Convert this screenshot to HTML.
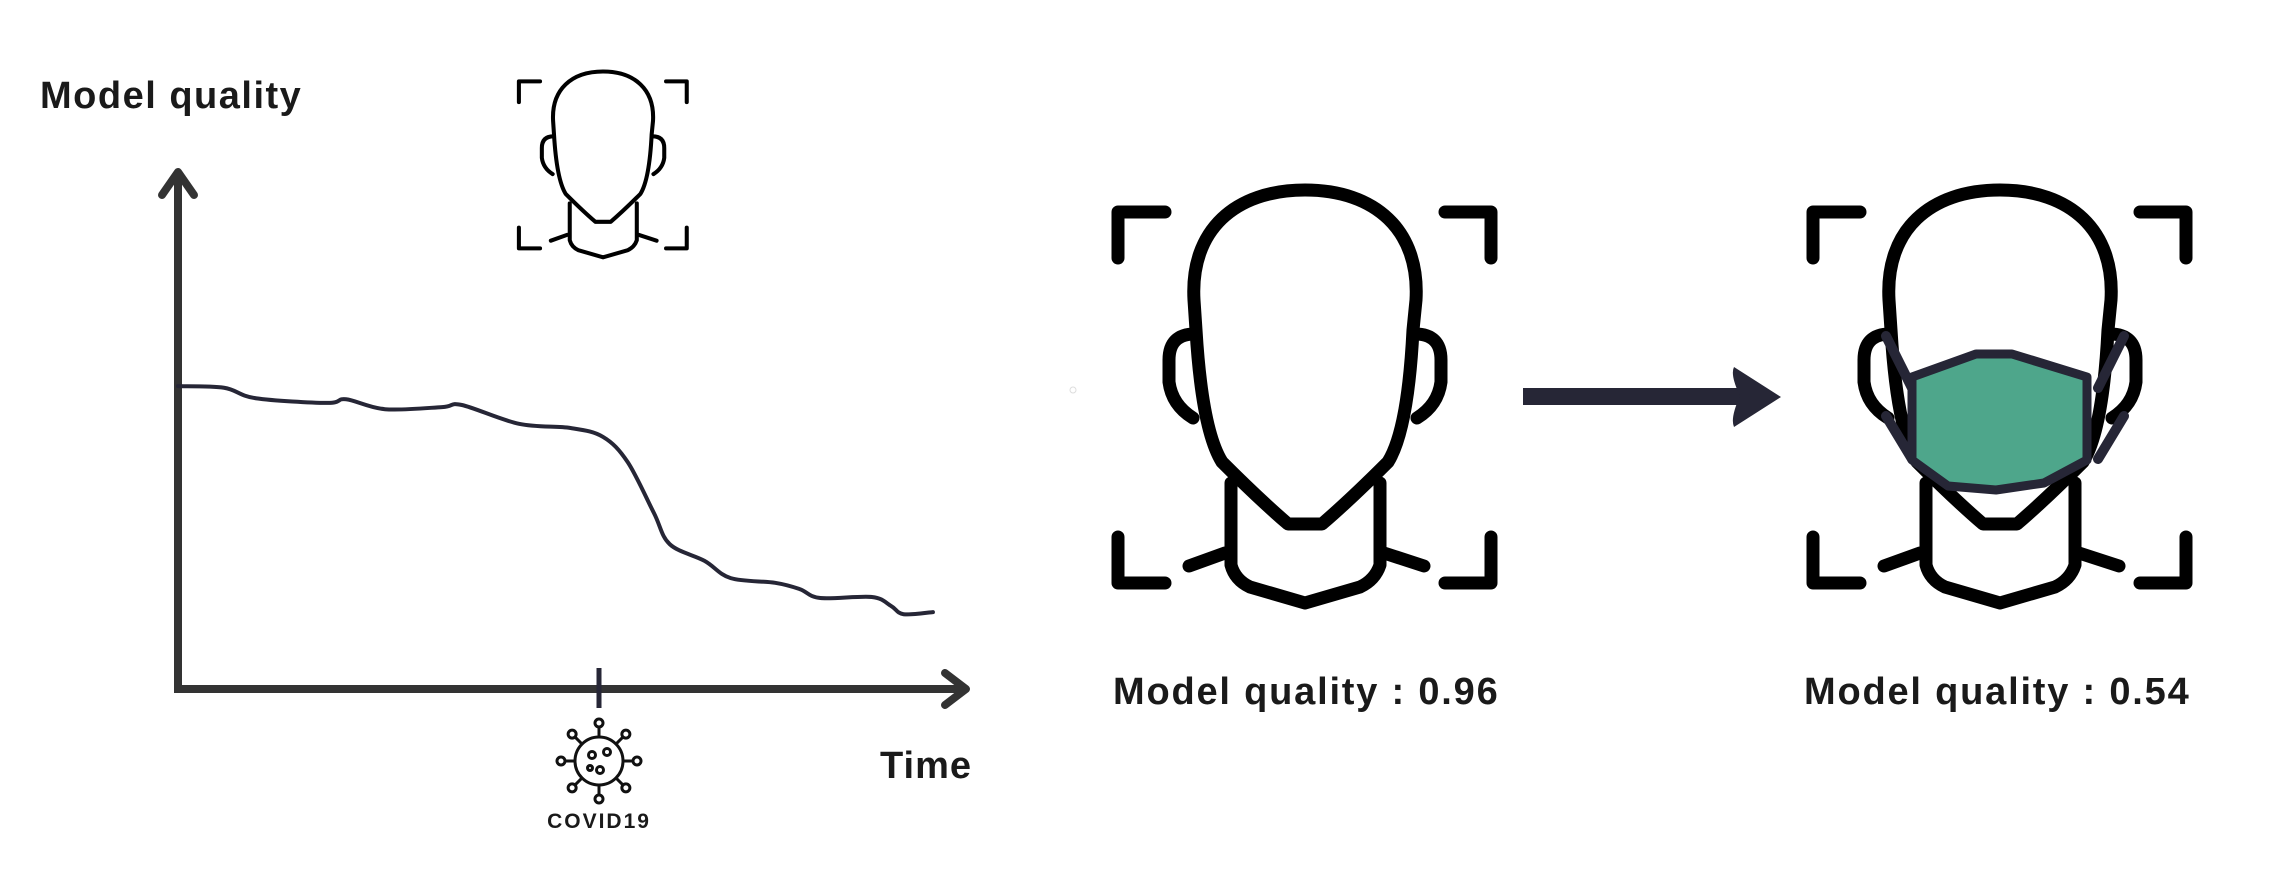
<!DOCTYPE html>
<html><head><meta charset="utf-8"><style>
html,body{margin:0;padding:0;background:#fff;}
svg{display:block;}
text{font-family:"Liberation Sans",sans-serif;font-weight:bold;fill:#1a1a1a;}
</style></head><body>
<svg id="chart" width="2290" height="880" viewBox="0 0 2290 880">
<defs>
<g id="face">
  <g fill="none" stroke="#000" stroke-linecap="round" stroke-linejoin="round">
    <path d="M1288,524 L1322,524 Q1350,500 1388,462 Q1408,430 1413,330 L1416,300 C1420,230 1375,190 1305,190 C1235,190 1190,230 1194,300 L1196,330 Q1202,430 1222,462 Q1260,500 1288,524 Z"/>
    <path d="M1195,334 Q1169,334 1169,360 L1169,382 Q1172,405 1193,418"/>
    <path d="M1415,334 Q1441,334 1441,360 L1441,382 Q1438,405 1417,418"/>
    <path d="M1231,483 L1231,565 Q1235,580 1250,587 L1305,603 L1360,587 Q1375,580 1380,565 L1380,483"/>
    <path d="M1189,566 L1225,553 M1424,566 L1384,553"/>
    <path d="M1118,258 L1118,212 L1165,212 M1445,212 L1491,212 L1491,258 M1118,537 L1118,583 L1165,583 M1445,583 L1491,583 L1491,537"/>
  </g>
</g>
</defs>

<text x="40" y="108" font-size="38" letter-spacing="1.5">Model quality</text>
<text x="880" y="778" font-size="38" letter-spacing="1">Time</text>

<g stroke="#333" stroke-width="8" fill="none">
  <line x1="178" y1="689" x2="178" y2="175"/>
  <polyline points="162,195 178,172 194,195" stroke-linecap="round" stroke-linejoin="round"/>
  <line x1="174" y1="689" x2="962" y2="689"/>
  <polyline points="945,673 966,689 945,705" stroke-linecap="round" stroke-linejoin="round"/>
  <line x1="599" y1="668" x2="599" y2="708" stroke="#262636" stroke-width="5"/>
</g>

<g id="series"></g>

<g fill="none" stroke="#111" stroke-width="3">
  <circle cx="599" cy="761" r="24"/>
  <circle cx="592" cy="755" r="3.5"/><circle cx="607" cy="752" r="3.5"/><circle cx="600" cy="770" r="3.5"/><circle cx="590" cy="768" r="2.5"/>
  <g id="spikes"></g>
</g>
<text x="599" y="828" font-size="21" text-anchor="middle" letter-spacing="2">COVID19</text>

<g transform="translate(15.8,-14) scale(0.45)"><use href="#face" stroke-width="9"/></g>
<g><use href="#face" stroke-width="13"/></g>
<g transform="translate(695,0)">
  <use href="#face" stroke-width="13"/>
  <g stroke="#262636" stroke-width="10" stroke-linejoin="round" stroke-linecap="round">
    <path d="M1886,336 L1912,388 M1886,416 L1912,459 M2124,336 L2098,388 M2124,416 L2098,459" transform="translate(-695,0)" fill="none"/>
  </g>
</g>
<path d="M1912,377 L1976,354 L2012,354 L2087,377 L2087,460 L2044,483 L1996,490 L1948,486 L1912,460 Z" fill="#4ea68b" stroke="#262636" stroke-width="9" stroke-linejoin="round"/>

<g fill="#262636">
  <rect x="1523" y="388" width="218" height="17"/>
  <path d="M1734,367 Q1730,375 1740,396 Q1730,418 1734,427 L1781,397 Z"/>
</g>

<text x="1113" y="704" font-size="38" letter-spacing="1.8">Model quality : 0.96</text>
<text x="1804" y="704" font-size="38" letter-spacing="1.8">Model quality : 0.54</text>
<circle cx="1073" cy="390" r="3" fill="none" stroke="#ddd" stroke-width="1"/>
</svg>

<script>
const times = [0,5.8,9.8,18.8,21.2,26.1,33.3,35.8,43,49.5,53.6,56.7,60,62,66.4,69.7,75.3,78.4,81,87.5,89.9,91.5,95.2];
const quality = [57.9,57.6,55.6,54.7,55.4,53.5,53.9,54.3,50.7,49.9,48.2,43.4,33.7,27.7,24.5,21.2,20.3,19.1,17.4,17.6,15.9,14.3,14.7];
const xScale = t => 178 + t * 7.93;
const yScale = v => 689 - v * 5.23;
const NS = "http://www.w3.org/2000/svg";
const pts = times.map((t,i)=>[xScale(t), yScale(quality[i])]);
let d = "M" + pts[0][0] + "," + pts[0][1];
const n = pts.length;
for (let i = 0; i < n - 1; i++){
  const p0 = pts[Math.max(i-1,0)], p1 = pts[i], p2 = pts[i+1], p3 = pts[Math.min(i+2,n-1)];
  const c1x = p1[0] + (p2[0]-p0[0])/6, c1y = p1[1] + (p2[1]-p0[1])/6;
  const c2x = p2[0] - (p3[0]-p1[0])/6, c2y = p2[1] - (p3[1]-p1[1])/6;
  d += " C" + c1x + "," + c1y + " " + c2x + "," + c2y + " " + p2[0] + "," + p2[1];
}
const path = document.createElementNS(NS,"path");
path.setAttribute("d", d);
path.setAttribute("fill","none");
path.setAttribute("stroke","#262636");
path.setAttribute("stroke-width","4");
path.setAttribute("stroke-linecap","round");


document.getElementById("series").appendChild(path);

const sp = document.getElementById("spikes");
for (let k = 0; k < 8; k++){
  const a = k*Math.PI/4 - Math.PI/2;
  const c = Math.cos(a), s = Math.sin(a);
  const l = document.createElementNS(NS,"line");
  l.setAttribute("x1",599+24*c); l.setAttribute("y1",761+24*s);
  l.setAttribute("x2",599+34*c); l.setAttribute("y2",761+34*s);
  
  
  sp.appendChild(l);
  const ci = document.createElementNS(NS,"circle");
  ci.setAttribute("cx",599+38*c); ci.setAttribute("cy",761+38*s); ci.setAttribute("r",4);
  
  
  sp.appendChild(ci);
}
</script>
</body></html>
